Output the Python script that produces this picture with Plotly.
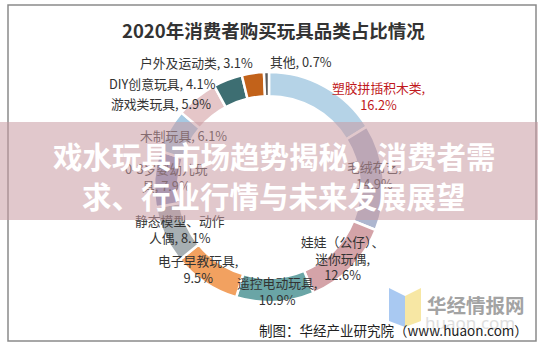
import plotly.graph_objects as go

# 2020年消费者购买玩具品类占比（%）
categories = ["塑胶拼插积木类", "毛绒布艺", "娃娃（公仔）、迷你玩偶", "遥控电动玩具",
              "电子早教玩具", "静态模型、动作人偶", "0-3岁婴幼儿玩具", "木制玩具",
              "游戏类玩具", "DIY创意玩具", "户外及运动类", "其他"]
values = [16.2, 14.9, 12.6, 10.9, 9.5, 8.1, 7.9, 6.1, 5.9, 4.1, 3.1, 0.7]

title_text = "2020年消费者购买玩具品类占比情况"
banner_lines = ["戏水玩具市场趋势揭秘，消费者需", "求、行业行情与未来发展展望"]
source_text = "制图：华经产业研究院（www.huaon.com）"
logo_text = "华经情报网"
logo_sub = "huaon.com"

# slice colours
colors = ["#b5d3e7", "#adb6cf", "#d4a3a8", "#6aa5a6", "#f2a160", "#a7afb3",
          "#8c95c2", "#a6c9e2", "#e5c6c8", "#3d6e72", "#c2621a", "#5a5a5a"]

# label layout: how each label wraps, where it sits (px), its colour
label_fmt = ["{n},<br>{v}%", "{n},<br>{v}%", "娃娃（公仔）、<br>迷你玩偶,<br>{v}%", "{n},<br>{v}%",
             "{n},<br>{v}%", "静态模型、动作<br>人偶, {v}%", "0-3岁婴幼儿玩<br>具, {v}%", "{n}, {v}%",
             "{n}, {v}%", "{n}, {v}%", "{n}, {v}%", "{n}, {v}%"]
label_x = [378, 374, 342, 277, 198, 180, 166, 183, 161, 162, 196, 301]
label_y = [95.5, 174.5, 258, 290.5, 269, 228.5, 176.5, 135, 103, 83, 62, 61]
label_color = ["#c0181c"] + ["#333333"] * 11

W, H = 547, 345
cx, cy, r = 269, 187, 115

labels_text = [f.format(n=n, v=v) for f, n, v in zip(label_fmt, categories, values)]

fig = go.Figure()

fig.add_trace(go.Pie(
    labels=categories, values=values, sort=False, direction="clockwise", rotation=0,
    hole=0.79, textinfo="none", hoverinfo="label+percent", showlegend=False,
    marker=dict(colors=colors, line=dict(color="white", width=2.5)),
    domain=dict(x=[(cx - r) / W, (cx + r) / W], y=[(H - cy - r) / H, (H - cy + r) / H]),
))

shapes = [
    # outer frame
    dict(type="rect", x0=8, x1=536, y0=5, y1=341, xref="x", yref="y",
         line=dict(color="#8a8a8a", width=1.5), fillcolor="rgba(0,0,0,0)", layer="below"),
    # logo book shapes
    dict(type="path", path="M 389 288 L 405 296 L 405 327 L 389 321 Z", xref="x", yref="y",
         line=dict(width=0), fillcolor="#a9c9f2", layer="above"),
    dict(type="path", path="M 405 296 L 421 288 L 421 321 L 405 327 Z", xref="x", yref="y",
         line=dict(width=0), fillcolor="#f7e7a4", layer="above"),
]

annotations = [
    dict(text=f"<b>{title_text}</b>", x=273, y=30, xref="x", yref="y", showarrow=False,
         font=dict(family="Noto Sans CJK SC", size=18.5, color="#333333")),
    dict(text=f"<b>{logo_text}</b>", x=476, y=304, xref="x", yref="y", showarrow=False,
         font=dict(family="Noto Sans CJK SC", size=19.5, color="#a3a3a3")),
    dict(text=logo_sub, x=470, y=322, xref="x", yref="y", showarrow=False,
         font=dict(family="Noto Sans", size=17, color="#dedede")),
    dict(text=source_text, x=393, y=330, xref="x", yref="y", showarrow=False,
         font=dict(family="Noto Sans CJK SC", size=13.5, color="#222222")),
]

# slice labels (drawn before the banner so the banner tints them)
for t, lx, ly, lc in zip(labels_text, label_x, label_y, label_color):
    annotations.append(dict(text=t, x=lx, y=ly, xref="x", yref="y", showarrow=False,
                            xanchor="center", yanchor="middle", align="center",
                            font=dict(family="Noto Sans CJK SC", size=12.8, color=lc)))

# translucent banner band
annotations.append(dict(text=" ", x=0, y=122, xref="x", yref="y", showarrow=False,
                        xanchor="left", yanchor="top", width=538, height=98,
                        bgcolor="rgba(200,155,163,0.55)", borderpad=0, borderwidth=0,
                        font=dict(size=10)))
for i, line in enumerate(banner_lines):
    annotations.append(dict(text=f"<b>{line}</b>", x=274, y=155 + 40 * i, xref="x", yref="y",
                            showarrow=False,
                            font=dict(family="Noto Sans CJK SC", size=29.5, color="white")))

fig.update_layout(
    width=W, height=H, margin=dict(l=0, r=0, t=0, b=0),
    paper_bgcolor="white", plot_bgcolor="rgba(0,0,0,0)",
    xaxis=dict(range=[0, W], visible=False, fixedrange=True, domain=[0, 1]),
    yaxis=dict(range=[H, 0], visible=False, fixedrange=True, domain=[0, 1]),
    shapes=shapes, annotations=annotations,
)

fig.write_html("out.html")
